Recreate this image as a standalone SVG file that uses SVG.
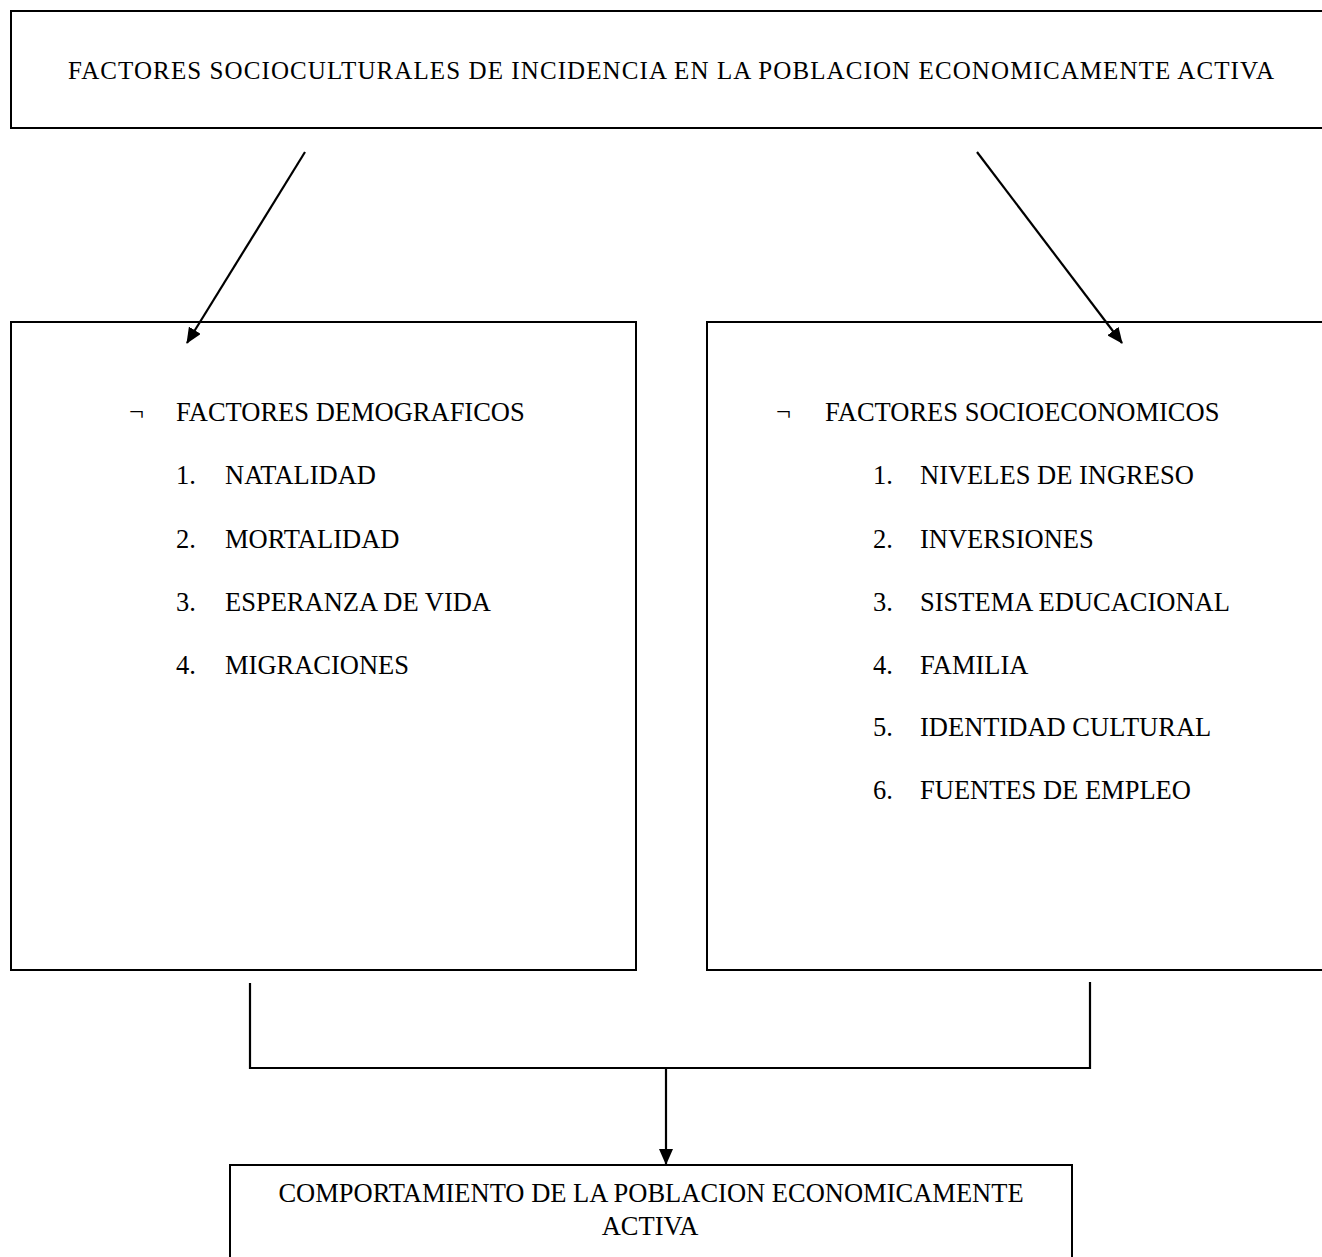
<svg xmlns="http://www.w3.org/2000/svg" width="1322" height="1257" viewBox="0 0 1322 1257">
<defs>
<marker id="ah" markerWidth="16" markerHeight="14" refX="15" refY="7" orient="auto" markerUnits="userSpaceOnUse" viewBox="0 0 16 14">
<path d="M0,0 L16,7 L0,14 z" fill="#000"/>
</marker>
<style>
.box{fill:#fff;stroke:#000;stroke-width:2}
.t{font-family:"Liberation Serif","Times New Roman",serif;font-size:26.5px;fill:#000}
.c{stroke:#000;stroke-width:2.2;fill:none}
</style>
</defs>
<rect width="1322" height="1257" fill="#fff"/>
<g id="top">
<rect class="box" x="11" y="11" width="1330" height="117"/>
<text class="t" x="68" y="79" style="font-size:25px" textLength="1206" lengthAdjust="spacing">FACTORES SOCIOCULTURALES DE INCIDENCIA EN LA POBLACION ECONOMICAMENTE ACTIVA</text>
</g>
<g id="demograficos">
<rect class="box" x="11" y="322" width="625" height="648"/>
<text class="t" x="129" y="421">¬</text>
<text class="t" x="176" y="421">FACTORES DEMOGRAFICOS</text>
<text class="t" x="176" y="484">1.</text><text class="t" x="225" y="484">NATALIDAD</text>
<text class="t" x="176" y="548">2.</text><text class="t" x="225" y="548">MORTALIDAD</text>
<text class="t" x="176" y="611">3.</text><text class="t" x="225" y="611">ESPERANZA DE VIDA</text>
<text class="t" x="176" y="674">4.</text><text class="t" x="225" y="674">MIGRACIONES</text>
</g>
<g id="socioeconomicos">
<rect class="box" x="707" y="322" width="640" height="648"/>
<text class="t" x="776" y="421">¬</text>
<text class="t" x="825" y="421">FACTORES SOCIOECONOMICOS</text>
<text class="t" x="873" y="484">1.</text><text class="t" x="920" y="484">NIVELES DE INGRESO</text>
<text class="t" x="873" y="548">2.</text><text class="t" x="920" y="548">INVERSIONES</text>
<text class="t" x="873" y="611">3.</text><text class="t" x="920" y="611">SISTEMA EDUCACIONAL</text>
<text class="t" x="873" y="674">4.</text><text class="t" x="920" y="674">FAMILIA</text>
<text class="t" x="873" y="736">5.</text><text class="t" x="920" y="736">IDENTIDAD CULTURAL</text>
<text class="t" x="873" y="799">6.</text><text class="t" x="920" y="799">FUENTES DE EMPLEO</text>
</g>
<g id="comportamiento">
<rect class="box" x="230" y="1165" width="842" height="110"/>
<text class="t" x="651" y="1202" text-anchor="middle">COMPORTAMIENTO DE LA POBLACION ECONOMICAMENTE</text>
<text class="t" x="650" y="1235" text-anchor="middle">ACTIVA</text>
</g>
<g id="connectors">
<line class="c" x1="305" y1="152" x2="187" y2="343" marker-end="url(#ah)"/>
<line class="c" x1="977" y1="152" x2="1122" y2="343" marker-end="url(#ah)"/>
<polyline class="c" points="250,983 250,1068 1090,1068 1090,982"/>
<line class="c" x1="666" y1="1068" x2="666" y2="1164" marker-end="url(#ah)"/>
</g>
</svg>
